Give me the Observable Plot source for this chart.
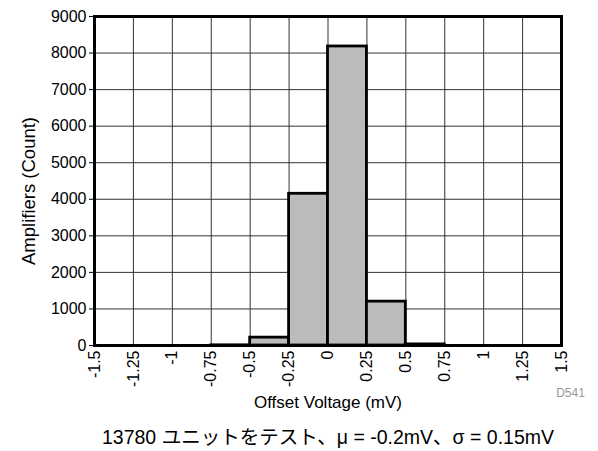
<!DOCTYPE html>
<html>
<head>
<meta charset="utf-8">
<script src="https://cdn.jsdelivr.net/npm/d3@7"></script>
<script src="https://cdn.jsdelivr.net/npm/@observablehq/plot@0.6"></script>
<style>
  html, body { margin: 0; padding: 0; background: #fff; }
  svg { display: block; }
</style>
</head>
<body>
<div id="chart"></div>
<script>
// Histogram bins (mV) and counts
const binStart = [-0.75, -0.5, -0.25, 0, 0.25, 0.5];
const binEnd   = [-0.5, -0.25, 0, 0.25, 0.5, 0.75];
const counts   = [5, 215, 4150, 8180, 1200, 30];

const xTicks = [-1.5, -1.25, -1, -0.75, -0.5, -0.25, 0, 0.25, 0.5, 0.75, 1, 1.25, 1.5];
const yTicks = [0, 1000, 2000, 3000, 4000, 5000, 6000, 7000, 8000, 9000];

const xLabel = "Offset Voltage (mV)";
const yLabel = "Amplifiers (Count)";
const caption = "13780 ユニットをテスト、μ = -0.2mV、σ = 0.15mV";
const figId = "D541";

const bins = binStart.map((s, i) => ({x1: s, x2: binEnd[i], y: counts[i]}));

const fontFam = "'Liberation Sans', Arial, 'Noto Sans CJK JP', sans-serif";

const chart = Plot.plot({
  width: 598,
  height: 451,
  marginLeft: 94,
  marginRight: 37,
  marginTop: 16,
  marginBottom: 106,
  style: {fontFamily: fontFam, fontSize: "16px", color: "#000", background: "#fff"},
  x: {domain: [-1.5, 1.5], ticks: xTicks},
  y: {domain: [0, 9000], ticks: yTicks},
  marks: [
    Plot.gridX(xTicks, {stroke: "#333", strokeOpacity: 1, strokeWidth: 1}),
    Plot.gridY(yTicks, {stroke: "#333", strokeOpacity: 1, strokeWidth: 1}),
    Plot.rectY(bins, {x1: "x1", x2: "x2", y: "y", fill: "#bbbbbb", stroke: "#000", strokeWidth: 2.8}),
    Plot.frame({stroke: "#000", strokeWidth: 3}),
    Plot.axisY(yTicks, {tickSize: 5, tickPadding: 3, tickFormat: d => String(d), label: null, fontSize: 16}),
    Plot.axisX(xTicks, {tickSize: 0, tickPadding: 5, tickRotate: -90, tickFormat: d => String(d), label: null, fontSize: 16}),
    Plot.text([yLabel], {frameAnchor: "left", textAnchor: "middle", dx: -65.5, dy: 10, rotate: -90, text: d => d, fontSize: 18.5, fill: "#000", lineAnchor: "middle"}),
    Plot.text([xLabel], {frameAnchor: "bottom", dy: 57, text: d => d, fontSize: 17, fill: "#000", lineAnchor: "middle"}),
    Plot.text([figId], {frameAnchor: "bottom-right", textAnchor: "middle", dx: 9, dy: 48, text: d => d, fontSize: 12, fill: "#999", lineAnchor: "middle"}),
    Plot.text([caption], {frameAnchor: "bottom", dy: 92, text: d => d, fontSize: 19.5, fill: "#000", lineAnchor: "middle"})
  ]
});
document.getElementById("chart").appendChild(chart);
</script>
</body>
</html>
